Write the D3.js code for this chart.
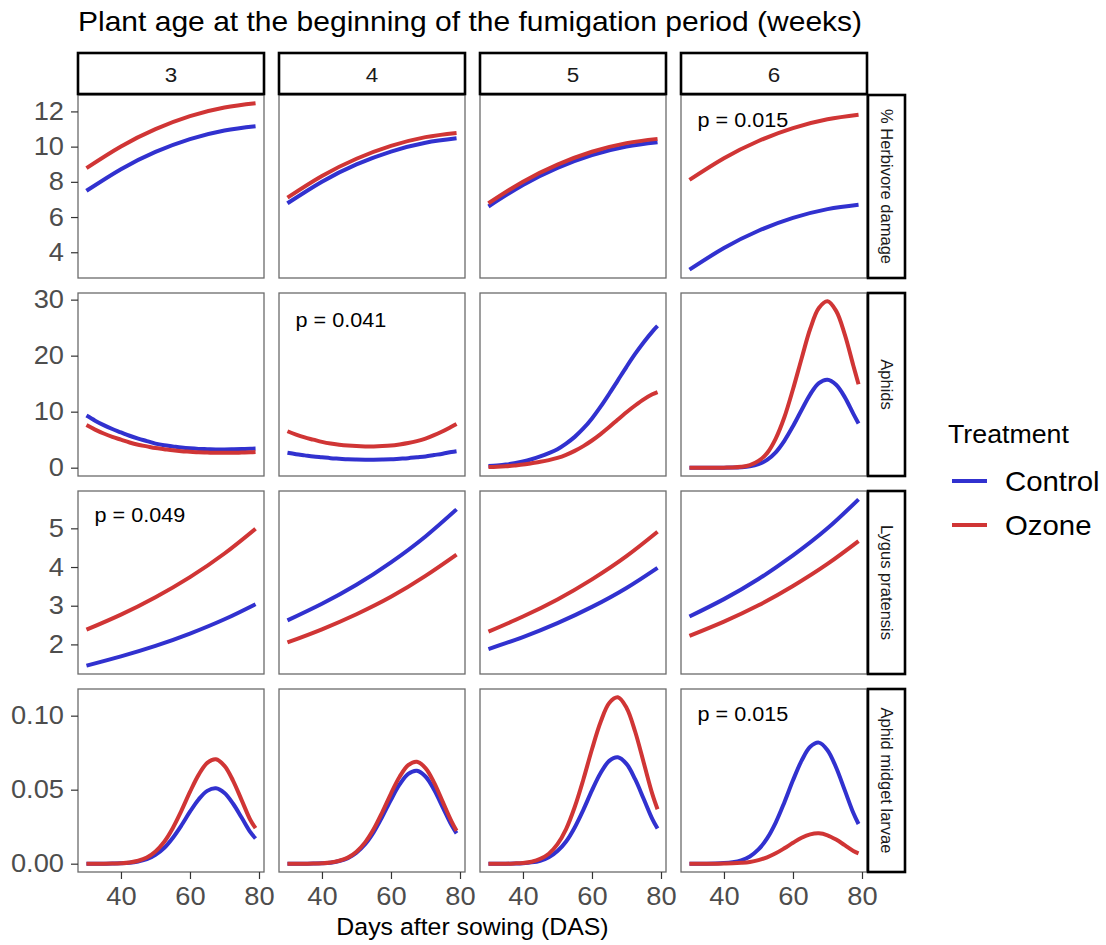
<!DOCTYPE html>
<html>
<head>
<meta charset="utf-8">
<title>Fumigation facets</title>
<script src="https://cdn.jsdelivr.net/npm/d3@7/dist/d3.min.js"></script>
<style>
  body { margin: 0; background: #fff; }
  text { font-family: "Liberation Sans", Arial, sans-serif; }
</style>
</head>
<body>
<div id="chart"></div>
<script>
// facet labels
var columns = ["3", "4", "5", "6"];
var rowLabels = ["% Herbivore damage", "Aphids", "Lygus pratensis", "Aphid midget larvae"];
var treatments = ["Control", "Ozone"];
var treatmentColors = ["#3131cf", "#d03535"];

// days after sowing
var daysCoarse = [30, 40, 50, 60, 70, 79];
var daysFine = [30, 32.5, 35, 37.5, 40, 42.5, 45, 47.5, 50, 52.5, 55, 57.5, 60, 62.5, 65, 67.5, 70, 72.5, 75, 77.5, 79];

// one inner array per column (3, 4, 5, 6 weeks)
var herbivoreControl = [
  [7.49, 8.72, 9.70, 10.43, 10.92, 11.16],
  [6.78, 8.01, 8.99, 9.72, 10.22, 10.47],
  [6.60, 7.82, 8.79, 9.52, 10.01, 10.25],
  [3.01, 4.24, 5.22, 5.95, 6.45, 6.70]
];
var herbivoreOzone = [
  [8.78, 10.01, 10.99, 11.73, 12.22, 12.46],
  [7.10, 8.33, 9.31, 10.04, 10.54, 10.78],
  [6.78, 8.01, 8.98, 9.71, 10.20, 10.44],
  [8.11, 9.34, 10.32, 11.05, 11.55, 11.81]
];
var aphidsControl = [
  [9.3, 8.4, 7.6, 6.9, 6.3, 5.7, 5.2, 4.75, 4.3, 4.0, 3.8, 3.6, 3.45, 3.35, 3.3, 3.25, 3.25, 3.28, 3.32, 3.38, 3.42],
  [2.65, 2.4, 2.2, 2.0, 1.85, 1.7, 1.6, 1.5, 1.45, 1.42, 1.42, 1.45, 1.5, 1.6, 1.7, 1.85, 2.0, 2.25, 2.5, 2.8, 2.95],
  [0.3, 0.4, 0.55, 0.8, 1.1, 1.5, 2.0, 2.6, 3.3, 4.3, 5.5, 7.0, 8.8, 10.9, 13.2, 15.6, 18.0, 20.3, 22.4, 24.3, 25.3],
  [0, 0, 0, 0, 0, 0.02, 0.08, 0.24, 0.63, 1.4, 2.75, 4.8, 7.4, 10.3, 13.1, 15.1, 15.7, 14.8, 12.6, 9.6, 7.9]
];
var aphidsOzone = [
  [7.6, 6.8, 6.1, 5.5, 5.0, 4.5, 4.1, 3.8, 3.5, 3.3, 3.1, 2.95, 2.85, 2.75, 2.7, 2.65, 2.65, 2.65, 2.7, 2.75, 2.8],
  [6.5, 5.9, 5.4, 5.0, 4.6, 4.3, 4.1, 3.95, 3.85, 3.8, 3.8, 3.85, 3.95, 4.15, 4.4, 4.75, 5.2, 5.8, 6.5, 7.3, 7.8],
  [0.1, 0.15, 0.25, 0.4, 0.55, 0.8, 1.05, 1.35, 1.75, 2.3, 3.0, 3.85, 4.85, 6.0, 7.25, 8.6, 9.9, 11.1, 12.2, 13.1, 13.5],
  [0, 0, 0, 0, 0.01, 0.03, 0.15, 0.45, 1.2, 2.6, 5.2, 9.0, 14.0, 19.5, 24.8, 28.5, 29.7, 28.0, 23.8, 18.2, 14.9]
];
var lygusControl = [
  [1.45, 1.69, 1.96, 2.28, 2.65, 3.04],
  [2.62, 3.05, 3.54, 4.12, 4.79, 5.49],
  [1.88, 2.19, 2.55, 2.97, 3.46, 3.98],
  [2.72, 3.17, 3.69, 4.30, 5.00, 5.75]
];
var lygusOzone = [
  [2.38, 2.77, 3.22, 3.74, 4.35, 4.99],
  [2.05, 2.39, 2.78, 3.23, 3.77, 4.32],
  [2.33, 2.72, 3.16, 3.68, 4.28, 4.91],
  [2.22, 2.59, 3.01, 3.51, 4.08, 4.67]
];
var midgeControl = [
  [0, 0, 0, 0.0001, 0.00024, 0.0006, 0.0015, 0.003, 0.006, 0.0106, 0.0174, 0.0258, 0.0351, 0.0434, 0.0492, 0.051, 0.0478, 0.0405, 0.031, 0.0213, 0.017],
  [0, 0, 0, 0.0001, 0.00027, 0.0007, 0.0018, 0.0037, 0.0074, 0.0131, 0.0213, 0.0318, 0.0432, 0.0535, 0.0607, 0.0628, 0.0589, 0.05, 0.0381, 0.0262, 0.0205],
  [0, 0, 0, 0.0001, 0.00034, 0.00087, 0.002, 0.0043, 0.0085, 0.015, 0.0245, 0.0364, 0.0495, 0.0612, 0.0695, 0.0719, 0.0674, 0.0571, 0.0437, 0.0301, 0.0237],
  [0, 0, 0, 0.0001, 0.00038, 0.001, 0.0023, 0.0049, 0.0096, 0.0171, 0.0278, 0.0414, 0.0563, 0.0696, 0.079, 0.0818, 0.0767, 0.065, 0.0497, 0.0342, 0.0268]
];
var midgeOzone = [
  [0, 0, 0, 0.0001, 0.00033, 0.00085, 0.002, 0.0042, 0.0083, 0.0147, 0.024, 0.0357, 0.0485, 0.06, 0.0681, 0.0705, 0.0661, 0.056, 0.0428, 0.0295, 0.024],
  [0, 0, 0, 0.0001, 0.0003, 0.0008, 0.002, 0.0041, 0.0081, 0.0144, 0.0234, 0.0349, 0.0474, 0.0587, 0.0666, 0.0689, 0.0646, 0.0548, 0.0418, 0.0288, 0.0223],
  [0, 0, 0, 0.0002, 0.00053, 0.00135, 0.0032, 0.0067, 0.0132, 0.0234, 0.0383, 0.0569, 0.0773, 0.0957, 0.1086, 0.1124, 0.1054, 0.0893, 0.0682, 0.047, 0.0368],
  [0, 0, 0, 0, 0.0001, 0.00025, 0.0006, 0.0012, 0.0024, 0.0043, 0.007, 0.0104, 0.0141, 0.0175, 0.0198, 0.0205, 0.0192, 0.0163, 0.0125, 0.0086, 0.007]
];

// axis ticks
var xTicks = [40, 60, 80];
var herbivoreTicks = [4, 6, 8, 10, 12];
var aphidsTicks = [0, 10, 20, 30];
var lygusTicks = [2, 3, 4, 5];
var midgeTicks = [0, 0.05, 0.10];

// significance notes: row, column, text, placed at (day, value)
var pNotes = [
  { row: 0, col: 3, text: "p = 0.015", day: 45.5, value: 11.53 },
  { row: 1, col: 1, text: "p = 0.041", day: 45.5, value: 26.4 },
  { row: 2, col: 0, text: "p = 0.049", day: 45.5, value: 5.34 },
  { row: 3, col: 3, text: "p = 0.015", day: 45.5, value: 0.101 }
];

var rows = [
  { days: daysCoarse, series: [herbivoreControl, herbivoreOzone], ticks: herbivoreTicks, fmt: d3.format("d"), curve: d3.curveNatural },
  { days: daysFine, series: [aphidsControl, aphidsOzone], ticks: aphidsTicks, fmt: d3.format("d"), curve: d3.curveCatmullRom.alpha(0.5) },
  { days: daysCoarse, series: [lygusControl, lygusOzone], ticks: lygusTicks, fmt: d3.format("d"), curve: d3.curveNatural },
  { days: daysFine, series: [midgeControl, midgeOzone], ticks: midgeTicks, fmt: d3.format(".2f"), curve: d3.curveCatmullRom.alpha(0.5) }
];

// layout
var width = 1106, height = 945;
var left0 = 78, top0 = 95, pw = 186, ph = 183, gapX = 15, gapY = 15;
var stripH = 42, stripW = 38;
var FONT = "'Liberation Sans', Arial, sans-serif";

var svg = d3.select("#chart").append("svg")
  .attr("width", width)
  .attr("height", height);

// the source picture is a little wider than tall, so widen glyphs a touch
function widen(sel, f) {
  sel.each(function () {
    var len = this.getComputedTextLength();
    d3.select(this).attr("textLength", len * f).attr("lengthAdjust", "spacingAndGlyphs");
  });
}

// shared x scale (ggplot style 5% expansion)
function expand(ext) {
  var r = ext[1] - ext[0];
  return [ext[0] - r * 0.05, ext[1] + r * 0.05];
}
var x = d3.scaleLinear().domain(expand(d3.extent(daysCoarse.concat(daysFine)))).range([0, pw]);

rows.forEach(function (row, ri) {
  var all = d3.merge(row.series.map(function (s) { return d3.merge(s); }));
  var y = d3.scaleLinear().domain(expand(d3.extent(all))).range([ph, 0]);
  var top = top0 + ri * (ph + gapY);

  columns.forEach(function (col, ci) {
    var left = left0 + ci * (pw + gapX);
    var g = svg.append("g").attr("transform", "translate(" + left + "," + top + ")");

    g.append("rect")
      .attr("width", pw).attr("height", ph)
      .attr("fill", "#fff");

    var clipId = "clip" + ri + ci;
    g.append("clipPath").attr("id", clipId)
      .append("rect").attr("width", pw).attr("height", ph);

    var line = d3.line()
      .x(function (d) { return x(d[0]); })
      .y(function (d) { return y(d[1]); })
      .curve(row.curve);

    row.series.forEach(function (s, ti) {
      var pts = row.days.map(function (day, k) { return [day, s[ci][k]]; });
      g.append("path")
        .datum(pts)
        .attr("clip-path", "url(#" + clipId + ")")
        .attr("d", line)
        .attr("fill", "none")
        .attr("stroke", treatmentColors[ti])
        .attr("stroke-width", 4)
        .attr("stroke-linecap", "butt");
    });

    g.append("rect")
      .attr("width", pw).attr("height", ph)
      .attr("fill", "none")
      .attr("stroke", "#6b6b6b")
      .attr("stroke-width", 1.3);

    // y axis on first column
    if (ci === 0) {
      var ya = g.append("g").call(d3.axisLeft(y).tickValues(row.ticks).tickFormat(row.fmt).tickSize(7).tickPadding(7));
      ya.select(".domain").remove();
      ya.selectAll(".tick line").attr("stroke", "#333").attr("stroke-width", 1.2);
      ya.selectAll(".tick text").attr("fill", "#4d4d4d").style("font-size", "25px").style("font-family", FONT)
        .call(widen, 1.09);
    }
    // x axis on bottom row
    if (ri === rows.length - 1) {
      var xa = g.append("g").attr("transform", "translate(0," + ph + ")")
        .call(d3.axisBottom(x).tickValues(xTicks).tickSize(7).tickPadding(8));
      xa.select(".domain").remove();
      xa.selectAll(".tick line").attr("stroke", "#333").attr("stroke-width", 1.2);
      xa.selectAll(".tick text").attr("fill", "#4d4d4d").style("font-size", "25px").style("font-family", FONT)
        .call(widen, 1.09);
    }

    // p-value annotation
    pNotes.filter(function (p) { return p.row === ri && p.col === ci; }).forEach(function (p) {
      g.append("text")
        .attr("x", x(p.day)).attr("y", y(p.value))
        .attr("dy", "0.36em")
        .attr("text-anchor", "middle")
        .style("font-size", "20px")
        .attr("fill", "#000")
        .text(p.text)
        .call(widen, 1.08);
    });
  });

  // right strip
  var sx = left0 + columns.length * pw + (columns.length - 1) * gapX;
  var sg = svg.append("g").attr("transform", "translate(" + sx + "," + top + ")");
  sg.append("rect")
    .attr("x", 1).attr("y", 0)
    .attr("width", stripW - 1).attr("height", ph)
    .attr("fill", "#fff").attr("stroke", "#000").attr("stroke-width", 2.6);
  sg.append("text")
    .attr("transform", "translate(" + (stripW / 2 + 1) + "," + (ph / 2) + ") rotate(90)")
    .attr("text-anchor", "middle")
    .attr("dy", "0.36em")
    .style("font-size", "16.5px")
    .attr("fill", "#1a1a1a")
    .text(rowLabels[ri]);
});

// top strips
columns.forEach(function (col, ci) {
  var left = left0 + ci * (pw + gapX);
  var sg = svg.append("g").attr("transform", "translate(" + left + "," + (top0 - stripH) + ")");
  sg.append("rect")
    .attr("width", pw).attr("height", stripH - 1)
    .attr("fill", "#fff").attr("stroke", "#000").attr("stroke-width", 2.6);
  sg.append("text")
    .attr("x", pw / 2).attr("y", stripH / 2 + 1)
    .attr("dy", "0.36em")
    .attr("text-anchor", "middle")
    .style("font-size", "20px")
    .attr("fill", "#1a1a1a")
    .text(col)
    .call(widen, 1.12);
});

// title and axis label
svg.append("text")
  .attr("x", left0).attr("y", 31)
  .style("font-size", "28.5px")
  .attr("fill", "#000")
  .text("Plant age at the beginning of the fumigation period (weeks)")
  .call(widen, 1.053);

svg.append("text")
  .attr("x", left0 + (columns.length * pw + (columns.length - 1) * gapX) / 2)
  .attr("y", 935)
  .attr("text-anchor", "middle")
  .style("font-size", "24.5px")
  .attr("fill", "#000")
  .text("Days after sowing (DAS)")
  .call(widen, 1.015);

// legend
var legend = svg.append("g").attr("transform", "translate(948,0)");
legend.append("text")
  .attr("x", 0).attr("y", 443)
  .style("font-size", "25px")
  .attr("fill", "#000")
  .text("Treatment")
  .call(widen, 1.07);
treatments.forEach(function (t, i) {
  var ly = 481 + i * 44;
  legend.append("line")
    .attr("x1", 4).attr("x2", 39)
    .attr("y1", ly).attr("y2", ly)
    .attr("stroke", treatmentColors[i])
    .attr("stroke-width", 4);
  legend.append("text")
    .attr("x", 57).attr("y", ly + 10)
    .style("font-size", "28.5px")
    .attr("fill", "#000")
    .text(t)
    .call(widen, 1.03);
});
</script>
</body>
</html>
